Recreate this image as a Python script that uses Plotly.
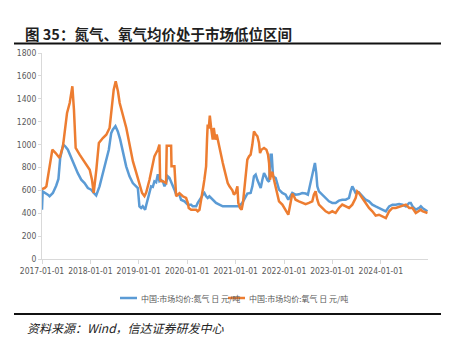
import plotly.graph_objects as go

# ---------------- data ----------------
n2_dates = [
    "2017-01-01", "2017-01-06", "2017-02-14", "2017-02-27", "2017-03-24", "2017-04-18",
    "2017-05-05", "2017-05-18", "2017-06-10", "2017-06-25", "2017-07-15", "2017-08-09",
    "2017-09-03", "2017-09-28", "2017-10-24", "2017-11-18", "2017-12-13", "2018-01-07",
    "2018-01-27", "2018-02-14", "2018-03-11", "2018-04-05", "2018-04-30", "2018-05-20",
    "2018-06-07", "2018-06-19", "2018-07-09", "2018-07-27", "2018-08-14", "2018-09-03",
    "2018-09-28", "2018-10-23", "2018-11-17", "2018-12-12", "2018-12-25", "2019-01-06",
    "2019-01-19", "2019-01-31", "2019-02-18", "2019-02-26", "2019-03-10", "2019-04-04",
    "2019-04-17", "2019-04-29", "2019-05-12", "2019-05-25", "2019-06-06", "2019-06-19",
    "2019-07-01", "2019-07-14", "2019-07-26", "2019-08-08", "2019-08-20", "2019-09-02",
    "2019-09-15", "2019-09-27", "2019-10-10", "2019-11-04", "2019-11-16", "2019-12-12",
    "2020-01-06", "2020-01-31", "2020-02-12", "2020-03-09", "2020-03-21", "2020-04-03",
    "2020-04-15", "2020-04-28", "2020-05-10", "2020-05-23", "2020-06-04", "2020-06-17",
    "2020-07-12", "2020-08-06", "2020-08-31", "2020-09-26", "2020-10-21", "2020-11-15",
    "2021-01-26", "2021-02-20", "2021-03-17", "2021-03-30", "2021-04-24", "2021-05-07",
    "2021-05-19", "2021-06-01", "2021-06-14", "2021-07-09", "2021-07-21", "2021-08-03",
    "2021-08-16", "2021-08-28", "2021-09-10", "2021-09-22", "2021-09-30", "2021-10-10",
    "2021-10-30", "2021-11-12", "2021-11-24", "2021-12-19", "2022-01-13", "2022-02-02",
    "2022-02-19", "2022-03-04", "2022-03-29", "2022-04-23", "2022-05-18", "2022-06-13",
    "2022-06-30", "2022-07-08", "2022-07-20", "2022-08-02", "2022-08-14", "2022-08-22",
    "2022-09-01", "2022-09-09", "2022-09-21", "2022-10-16", "2022-11-11", "2022-12-06",
    "2022-12-31", "2023-01-25", "2023-02-19", "2023-03-16", "2023-04-11", "2023-05-06",
    "2023-05-18", "2023-05-31", "2023-06-13", "2023-06-25", "2023-07-20", "2023-08-14",
    "2023-09-09", "2023-10-04", "2023-10-29", "2023-11-23", "2023-12-18", "2024-01-13",
    "2024-02-08", "2024-03-04", "2024-03-29", "2024-04-23", "2024-05-18", "2024-06-13",
    "2024-07-08", "2024-08-02", "2024-08-14", "2024-08-27", "2024-09-21", "2024-10-16",
    "2024-10-29", "2024-11-10", "2024-12-06", "2024-12-18",
]
n2_values = [
    430, 590, 562, 548, 577, 640,
    700, 880, 1000, 985, 955, 883,
    810, 750, 693, 664, 620, 606,
    577, 555, 635, 750, 868, 955,
    1100, 1130, 1160, 1115, 1043, 926,
    810, 722, 664, 635, 620, 460,
    445, 460, 430, 470, 518, 635,
    630, 679, 670, 740, 680, 690,
    680, 635, 664, 722, 710, 679,
    635, 606, 562, 560, 518, 504,
    475, 475, 460, 460, 490, 520,
    535, 562, 577, 548, 533, 548,
    518, 490, 475, 460, 460, 460,
    460, 490, 548, 571, 577, 635,
    722, 737, 690, 620, 690, 750,
    722, 690, 675, 912, 912, 722,
    708, 664, 606, 577, 562, 518,
    548, 577, 562, 565, 577, 572,
    562, 606, 664, 722, 780, 839,
    750, 635, 591, 562, 533, 504,
    490, 490, 510, 518, 518, 533,
    591, 635, 606, 577, 583, 548,
    518, 504, 475, 460, 446, 431,
    417, 460, 475, 475, 480, 475,
    460, 490, 490, 460, 431, 446,
    460, 446, 425, 417,
]

o2_dates = [
    "2017-01-01", "2017-01-21", "2017-02-03", "2017-03-20", "2017-04-14", "2017-05-14",
    "2017-06-08", "2017-07-09", "2017-07-29", "2017-08-18", "2017-08-30", "2017-09-12",
    "2017-10-12", "2017-11-06", "2017-12-02", "2017-12-27", "2018-01-13", "2018-01-26",
    "2018-02-15", "2018-03-06", "2018-04-05", "2018-05-01", "2018-05-26", "2018-06-08",
    "2018-06-26", "2018-07-11", "2018-07-28", "2018-08-10", "2018-09-04", "2018-09-29",
    "2018-10-24", "2018-11-18", "2018-12-14", "2019-01-02", "2019-01-26", "2019-02-13",
    "2019-02-26", "2019-03-23", "2019-04-17", "2019-04-29", "2019-05-12", "2019-05-25",
    "2019-06-06", "2019-06-11", "2019-06-19", "2019-07-01", "2019-07-26", "2019-07-31",
    "2019-09-02", "2019-09-05", "2019-09-27", "2019-10-05", "2019-10-10", "2019-11-04",
    "2019-11-16", "2019-11-29", "2019-12-24", "2020-01-06", "2020-01-13", "2020-01-31",
    "2020-03-09", "2020-03-21", "2020-04-03", "2020-04-10", "2020-04-23", "2020-05-03",
    "2020-05-10", "2020-05-23", "2020-05-30", "2020-06-04", "2020-06-12", "2020-06-20",
    "2020-06-30", "2020-07-12", "2020-07-20", "2020-08-01", "2020-08-11", "2020-08-19",
    "2020-08-31", "2020-09-13", "2020-09-26", "2020-10-08", "2020-10-21", "2020-11-02",
    "2020-11-15", "2020-11-24", "2020-12-07", "2020-12-19", "2021-01-01", "2021-01-14",
    "2021-01-21", "2021-02-03", "2021-02-15", "2021-02-25", "2021-03-12", "2021-03-30",
    "2021-04-12", "2021-04-24", "2021-05-07", "2021-05-19", "2021-06-01", "2021-06-14",
    "2021-06-26", "2021-07-04", "2021-07-14", "2021-08-03", "2021-08-21", "2021-09-02",
    "2021-09-10", "2021-09-17", "2021-09-27", "2021-10-05", "2021-10-17", "2021-10-30",
    "2021-11-12", "2021-11-24", "2021-12-19", "2022-01-13", "2022-02-02", "2022-02-19",
    "2022-03-04", "2022-03-16", "2022-03-29", "2022-04-23", "2022-05-18", "2022-06-13",
    "2022-07-08", "2022-08-02", "2022-08-14", "2022-08-27", "2022-09-09", "2022-09-21",
    "2022-10-16", "2022-11-11", "2022-12-06", "2022-12-31", "2023-01-25", "2023-02-19",
    "2023-03-16", "2023-04-11", "2023-05-06", "2023-05-31", "2023-06-25", "2023-07-07",
    "2023-07-20", "2023-08-14", "2023-09-09", "2023-10-04", "2023-10-29", "2023-11-23",
    "2023-12-18", "2024-01-13", "2024-02-08", "2024-03-04", "2024-03-29", "2024-04-23",
    "2024-05-18", "2024-06-13", "2024-07-08", "2024-08-02", "2024-08-27", "2024-09-21",
    "2024-10-16", "2024-10-29", "2024-11-10", "2024-12-06", "2024-12-18",
]
o2_values = [
    612, 620, 635, 955, 926, 883,
    984, 1276, 1363, 1509, 1305, 970,
    912, 868, 824, 780, 693, 577,
    780, 1014, 1057, 1086, 1145, 1305,
    1480, 1552, 1465, 1363, 1246, 1145,
    999, 853, 751, 664, 577, 550,
    580, 693, 839, 897, 926, 955,
    1000, 693, 679, 680, 664, 990,
    990, 810, 810, 606, 548, 575,
    562, 548, 533, 490, 445, 430,
    430, 417, 430, 490, 577, 640,
    693, 810, 1043, 1174, 1140, 1253,
    1145, 1043, 1145, 1043, 1087, 1043,
    955, 912, 839, 781, 722, 664,
    635, 620, 600, 562, 580, 635,
    490, 445, 431, 490, 693, 868,
    897, 912, 1000, 1115, 1090, 1072,
    1014, 926, 955, 970, 955, 912,
    839, 693, 750, 760, 693, 620,
    548, 504, 475, 431, 387, 490,
    571, 550, 518, 504, 490, 480,
    490, 504, 562, 591, 518, 475,
    446, 417, 402, 417, 402, 446,
    475, 460, 446, 475, 533, 591,
    577, 533, 490, 446, 417, 379,
    387, 373, 358, 417, 446, 446,
    455, 460, 475, 446, 446, 402,
    417, 431, 417, 410, 402,
]

series_names = ["中国:市场均价:氮气 日 元/吨", "中国:市场均价:氧气 日 元/吨"]
series_colors = ["#5B9BD5", "#ED7D31"]

title_text = "图 35：氮气、氧气均价处于市场低位区间"
source_text = "资料来源：Wind，信达证券研发中心"

# ---------------- figure ----------------
W, H = 460, 340
L, R, T, B = 42, 32, 53, 81
PW, PH = W - L - R, H - T - B


def px_x(px):
    return (px - L) / PW


def px_y(py):
    return (H - B - py) / PH


fig = go.Figure()
fig.add_trace(go.Scatter(x=n2_dates, y=n2_values, mode="lines", name=series_names[0],
                         line=dict(color=series_colors[0], width=2.5), showlegend=False))
fig.add_trace(go.Scatter(x=o2_dates, y=o2_values, mode="lines", name=series_names[1],
                         line=dict(color=series_colors[1], width=2.5), showlegend=False))

tick_font = dict(family="Liberation Sans Narrow, DejaVu Sans Condensed, sans-serif",
                 size=8.5, color="#595959")

fig.update_layout(
    template="none",
    width=W, height=H,
    margin=dict(l=L, r=R, t=T, b=B, pad=0),
    paper_bgcolor="white", plot_bgcolor="white",
    showlegend=False,
    xaxis=dict(
        type="date", range=["2017-01-01", "2024-12-22"],
        tick0="2017-01-01", dtick="M12", tickformat="%Y-%m-%d",
        showgrid=False, zeroline=False, showline=True, linecolor="#d9d9d9", linewidth=1,
        ticks="outside", ticklen=4, tickcolor="#d9d9d9", tickfont=tick_font,
        automargin=False,
    ),
    yaxis=dict(
        range=[0, 1800], dtick=200, tick0=0,
        showgrid=False, zeroline=False, showline=True, linecolor="#d9d9d9", linewidth=1,
        ticks="outside", ticklen=3, tickcolor="#d9d9d9", tickfont=tick_font,
        automargin=False,
    ),
)

# title + rules
fig.add_annotation(text="<b>" + title_text + "</b>", xref="paper", yref="paper",
                   x=px_x(23), y=px_y(33), xanchor="left", yanchor="middle",
                   showarrow=False,
                   font=dict(family="Noto Sans CJK SC", size=14.5, color="#1f1f1f"))
fig.add_shape(type="line", xref="paper", yref="paper", x0=px_x(14), x1=px_x(441),
              y0=px_y(43.5), y1=px_y(43.5), line=dict(color="#111111", width=2))
fig.add_shape(type="line", xref="paper", yref="paper", x0=px_x(14), x1=px_x(441),
              y0=px_y(314), y1=px_y(314), line=dict(color="#111111", width=2))
fig.add_annotation(text="<i>" + source_text + "</i>", xref="paper", yref="paper",
                   x=px_x(25), y=px_y(327), xanchor="left", yanchor="middle",
                   showarrow=False,
                   font=dict(family="Noto Sans CJK SC", size=12, color="#222222"))

# legend (drawn manually to match the short line keys)
leg_font = dict(family="Noto Sans CJK SC", size=8, color="#595959")
leg_y = 298
for (x0, x1), name, col in zip([(120, 137), (228, 245)], series_names, series_colors):
    fig.add_shape(type="line", xref="paper", yref="paper", x0=px_x(x0), x1=px_x(x1),
                  y0=px_y(leg_y), y1=px_y(leg_y), line=dict(color=col, width=2.5))
    fig.add_annotation(text=name, xref="paper", yref="paper", x=px_x(x1 + 2), y=px_y(leg_y),
                       xanchor="left", yanchor="middle", showarrow=False, font=leg_font)

fig.write_html("out.html")
